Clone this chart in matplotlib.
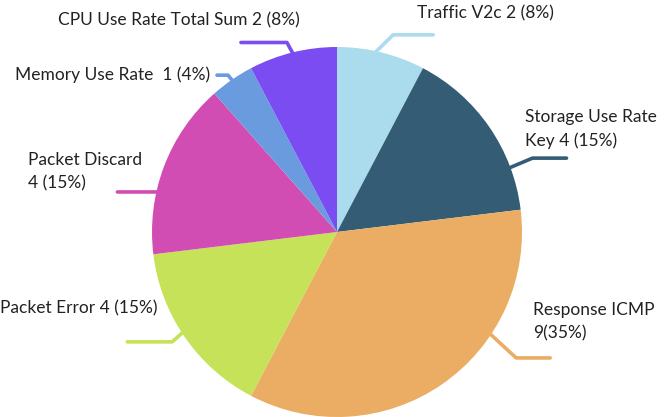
import numpy as np
import matplotlib
matplotlib.use("Agg")
import matplotlib.pyplot as plt

# ---- data ----
categories = ["Traffic V2c", "Storage Use Rate Key", "Response ICMP", "Packet Error",
              "Packet Discard", "Memory Use Rate ", "CPU Use Rate Total Sum"]
values = [2, 4, 9, 4, 4, 1, 2]
label_texts = ["Traffic V2c 2 (8%)", "Storage Use Rate\nKey 4 (15%)", "Response ICMP\n9(35%)",
               "Packet Error 4 (15%)", "Packet Discard\n4 (15%)", "Memory Use Rate  1 (4%)",
               "CPU Use Rate Total Sum 2 (8%)"]

# ---- style / layout ----
colors = ["#AADCEE", "#345C74", "#EBAD63", "#C5E259", "#D14DB4", "#6A9BDE", "#7B4CF2"]
W, H = 668, 417
cx, cy, R = 337, H - 232, 185
# leader lines: start angle, elbow angle (deg clockwise from top), radial extension, horizontal length
lead_start = [11.9, 69.6, 123.6, 237.0, 282.5, 325.4, 346.2]
lead_elbow = [15.9, 69.3, 125.1, 236.3, 282.5, 325.2, 345.2]
lead_len1 = [20, 24, 34, 13, 0, 6, 11]
lead_len2 = [40, 34, 34, 45, 39, 11, 46]
# text anchor (left x, center y of first line) in pixels from top-left
text_pos = [(417, 13), (525, 117), (533, 310), (0, 308), (28, 160), (15, 75), (58, 20)]
line_gap = 23.5

plt.rcParams['font.family'] = ['Lato', 'DejaVu Sans']
fig = plt.figure(figsize=(W / 100, H / 100), dpi=100)
ax = fig.add_axes([0, 0, 1, 1])

ax.pie(values, colors=colors, startangle=90, counterclock=False,
       center=(cx, cy), radius=R, frame=True,
       wedgeprops=dict(linewidth=0))
ax.set_xlim(0, W)
ax.set_ylim(0, H)
ax.set_aspect('equal')
ax.axis('off')

for i, txt in enumerate(label_texts):
    a = np.deg2rad(lead_start[i])
    b = np.deg2rad(lead_elbow[i])
    sx, sy = cx + (R - 2) * np.sin(a), cy + (R - 2) * np.cos(a)
    ex, ey = cx + (R + lead_len1[i]) * np.sin(b), cy + (R + lead_len1[i]) * np.cos(b)
    d = 1 if np.sin(b) > 0 else -1
    fx = ex + d * lead_len2[i]
    ax.plot([sx, ex, fx], [sy, ey, ey], color=colors[i], lw=2.6,
            solid_capstyle='round', solid_joinstyle='round', zorder=1)
    tx, ty = text_pos[i]
    for k, line in enumerate(txt.split("\n")):
        ax.text(tx, H - ty - k * line_gap, line, ha='left', va='center',
                fontsize=12.5, color='#222222')

fig.savefig("out.png", dpi=100)
